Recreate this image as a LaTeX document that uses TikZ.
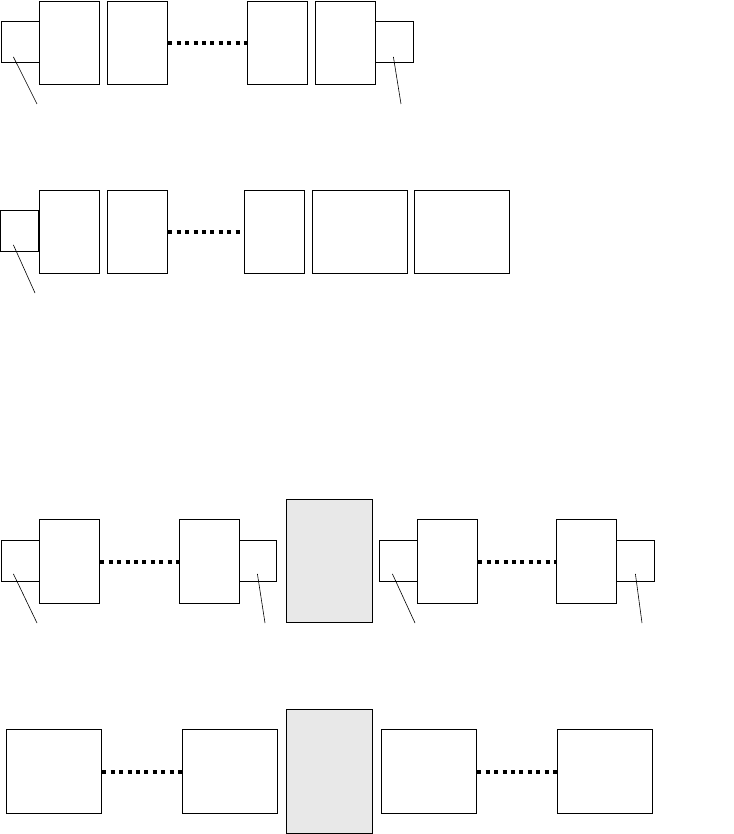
\documentclass[tikz,border=0pt]{standalone}
\usepackage{tikz}
\usetikzlibrary{positioning}
\definecolor{slabgray}{HTML}{E8E8E8}
\tikzset{
  blk/.style={draw, line width=1.3pt, fill=white, inner sep=0pt, anchor=north west, minimum width=60pt, minimum height=83pt},
  wide/.style={blk, minimum width=95pt},
  port/.style={draw, line width=0.8pt, fill=white, inner sep=0pt, anchor=north west, minimum width=38pt, minimum height=41pt},
  slab/.style={draw, line width=0.9pt, fill=slabgray, inner sep=0pt, anchor=north west, minimum width=86pt, minimum height=124pt},
  dots/.style={line width=4pt, dash pattern=on 4pt off 4.4pt},
  lead/.style={line width=0.6pt}
}

\begin{document}
\begin{tikzpicture}[x=1pt, y=-1pt]
      \useasboundingbox (0,0) rectangle (733,834);

      % first row
      \node[port] (p1) at (1,21) {};
      \node[port] (p2) at (375,21) {};
      \node[blk] (a1) at (39,1) {};
      \node[blk] (a2) at (107,1) {};
      \node[blk] (a3) at (247,1) {};
      \node[blk] (a4) at (315,1) {};
      \draw[dots] (a2.east) -- (a3.west);
      \coordinate (l1) at (37,104);
      \coordinate (l2) at (401,104);
      \draw[lead] ([shift={(-7,15)}]p1.center) -- (l1);
      \draw[lead] ([shift={(-1,15)}]p2.center) -- (l2);

      % second row
      \node[port] (q1) at (0,210) {};
      \node[blk] (b1) at (39,190) {};
      \node[blk] (b2) at (107,190) {};
      \node[blk] (b3) at (244,190) {};
      \node[wide] (b4) at (312,190) {};
      \node[wide] (b5) at (414,190) {};
      \draw[dots] (b2.east) -- (b3.west);
      \coordinate (m1) at (35,293);
      \draw[lead] ([shift={(-6,14)}]q1.center) -- (m1);

      % third row
      \node[port] (r1) at (1,540) {};
      \node[port] (r2) at (238,540) {};
      \node[port] (r3) at (379,540) {};
      \node[port] (r4) at (616,540) {};
      \node[blk, minimum height=84pt] (c1) at (39,519) {};
      \node[blk, minimum height=84pt] (c2) at (179,519) {};
      \node[slab, minimum height=123pt] (s1) at (286,499) {};
      \node[blk, minimum height=84pt] (c3) at (417,519) {};
      \node[blk, minimum height=84pt] (c4) at (556,519) {};
      \draw[dots] (c1.east) -- (c2.west);
      \draw[dots] (c3.east) -- (c4.west);
      \coordinate (n1) at (37,623);
      \coordinate (n2) at (265,623);
      \coordinate (n3) at (415,623);
      \coordinate (n4) at (642,623);
      \draw[lead] ([shift={(-7,13)}]r1.center) -- (n1);
      \draw[lead] ([shift={(0,13)}]r2.center) -- (n2);
      \draw[lead] ([shift={(-6,13)}]r3.center) -- (n3);
      \draw[lead] ([shift={(0,13)}]r4.center) -- (n4);

      % fourth row
      \node[wide, minimum height=84pt] (d1) at (6,729) {};
      \node[wide, minimum height=84pt] (d2) at (182,729) {};
      \node[slab] (s2) at (286,709) {};
      \node[wide, minimum height=84pt] (d3) at (381,729) {};
      \node[wide, minimum height=84pt] (d4) at (557,729) {};
      \draw[dots] (d1.east) -- (d2.west);
      \draw[dots] (d3.east) -- (d4.west);
    \end{tikzpicture}
\end{document}
